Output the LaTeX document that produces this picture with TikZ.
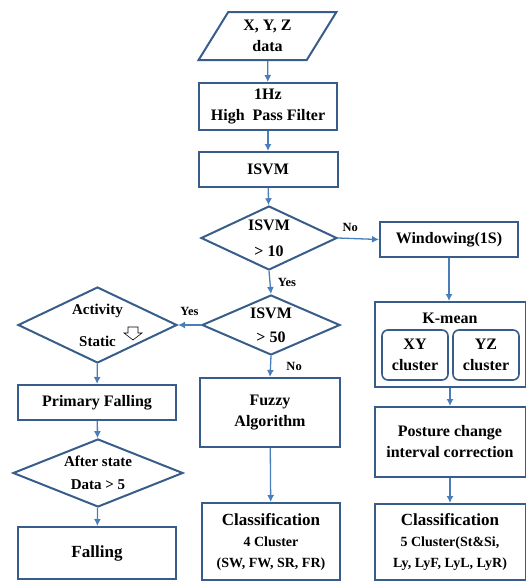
\documentclass[tikz,border=0pt]{standalone}
\usepackage{fontspec}
\setmainfont{Liberation Serif}
\usetikzlibrary{shapes.geometric, arrows.meta}

\definecolor{boxblue}{HTML}{385D8A}
\definecolor{arrowblue}{HTML}{4A7EBB}

\newcommand{\fsbig}{\fontsize{17}{21}\selectfont}
\newcommand{\fssmall}{\fontsize{14}{21.5}\selectfont}

\tikzset{
    box/.style={draw=boxblue, line width=2pt, fill=white, align=center, inner sep=1pt},
    decision/.style={diamond, draw=boxblue, line width=2pt, align=center, inner sep=0pt},
    subbox/.style={draw=boxblue, line width=1.6pt, rounded corners=6pt, align=center, inner sep=0pt},
    flow/.style={-{Latex[length=7pt,width=7pt]}, arrowblue, line width=1.3pt},
    lbl/.style={text=black, font=\bfseries\fontsize{12.5}{14}\selectfont}
}

\begin{document}
\begin{tikzpicture}[x=1pt, y=-1pt, font=\bfseries\fontsize{16}{21}\selectfont]
    \useasboundingbox (0,0) rectangle (525,581);

    % 1. Colonna centrale
    \node[trapezium, trapezium left angle=60, trapezium right angle=120, trapezium stretches=true,
          draw=boxblue, line width=2pt, align=center, inner sep=0pt,
          minimum width=139, minimum height=48] (data) at (267.5,36) {X, Y, Z\\data};
    \node[box, minimum width=138, minimum height=47] (hpf) at (268,106.5) {1Hz\\High~~Pass Filter};
    \node[box, minimum width=139, minimum height=35] (isvm) at (268,169.5) {ISVM};
    \node[decision, aspect=2.15, minimum width=136, minimum height=64,
          font=\bfseries\fontsize{16}{26}\selectfont] (ten) at (269,238) {ISVM\\> 10};
    \node[decision, aspect=2.3, minimum width=138, minimum height=60,
          font=\bfseries\fontsize{16}{24}\selectfont] (fifty) at (271,325) {ISVM\\> 50};
    \node[box, minimum width=140, minimum height=69] (fuzzy) at (270,412.5) {Fuzzy\\Algorithm};
    \node[box, minimum width=138, minimum height=77, font=\bfseries\fsbig] (cls4) at (271,541.5)
          {Classification\\\fssmall 4 Cluster\\\fssmall (SW, FW, SR, FR)};

    % 2. Colonna sinistra
    \node[decision, aspect=2.1, minimum width=159, minimum height=76,
          font=\bfseries\fontsize{15}{32}\selectfont] (act) at (97.5,325) {Activity\\Static};
    \node[box, minimum width=158, minimum height=35] (pf) at (97,402.5) {Primary Falling};
    \node[decision, aspect=2.5, minimum width=170, minimum height=68,
          font=\bfseries\fontsize{15}{23}\selectfont] (after) at (98,473) {After state\\Data > 5};
    \node[box, minimum width=158, minimum height=52, font=\bfseries\fsbig] (fall) at (97,553) {Falling};

    % freccia vuota accanto a Static
    \draw[black, line width=0.6pt, fill=white] (128,327) -- (138,327) -- (138,333) -- (142,333)
        -- (133,340) -- (124,333) -- (128,333) -- cycle;

    % 3. Colonna destra
    \node[box, minimum width=138, minimum height=35] (win) at (449,239.5) {Windowing(1S)};
    \node[box, minimum width=151, minimum height=85] (kmean) at (450,344.5) {};
    \node (kmtitle) at (450,318) {K-mean};
    \node[subbox, minimum width=66, minimum height=50] (xy) at (415,355) {XY\\cluster};
    \node[subbox, minimum width=66, minimum height=50] (yz) at (486,355) {YZ\\cluster};
    \node[box, minimum width=151, minimum height=70] (posture) at (450,442)
          {Posture change\\interval correction};
    \node[box, minimum width=151, minimum height=76, font=\bfseries\fsbig] (cls5) at (450,542)
          {Classification\\\fssmall 5 Cluster(St\&Si,\\\fssmall Ly, LyF, LyL, LyR)};

    % 4. Frecce
    \draw[flow] (data) -- (hpf);
    \draw[flow] (hpf) -- (isvm);
    \draw[flow] (isvm) -- (ten);
    \draw[flow] (ten.east) -- node[lbl, pos=0.3, above=3pt] {No} (win.west);
    \draw[flow] (ten.south) -- node[lbl, right=4pt] {Yes} (fifty.north);
    \draw[flow] (fifty.west) -- node[lbl, above=5pt] {Yes} (act.east);
    \draw[flow] (fifty.south) -- node[lbl, right=12pt] {No} (fuzzy.north);
    \draw[flow] (fuzzy) -- (cls4);
    \draw[flow] (act) -- (pf);
    \draw[flow] (pf) -- (after);
    \draw[flow] (after) -- (fall);
    \draw[flow] (win.south) -- (win.south |- kmean.north);
    \draw[flow] (kmean) -- (posture);
    \draw[flow] (posture) -- (cls5);

\end{tikzpicture}
\end{document}
